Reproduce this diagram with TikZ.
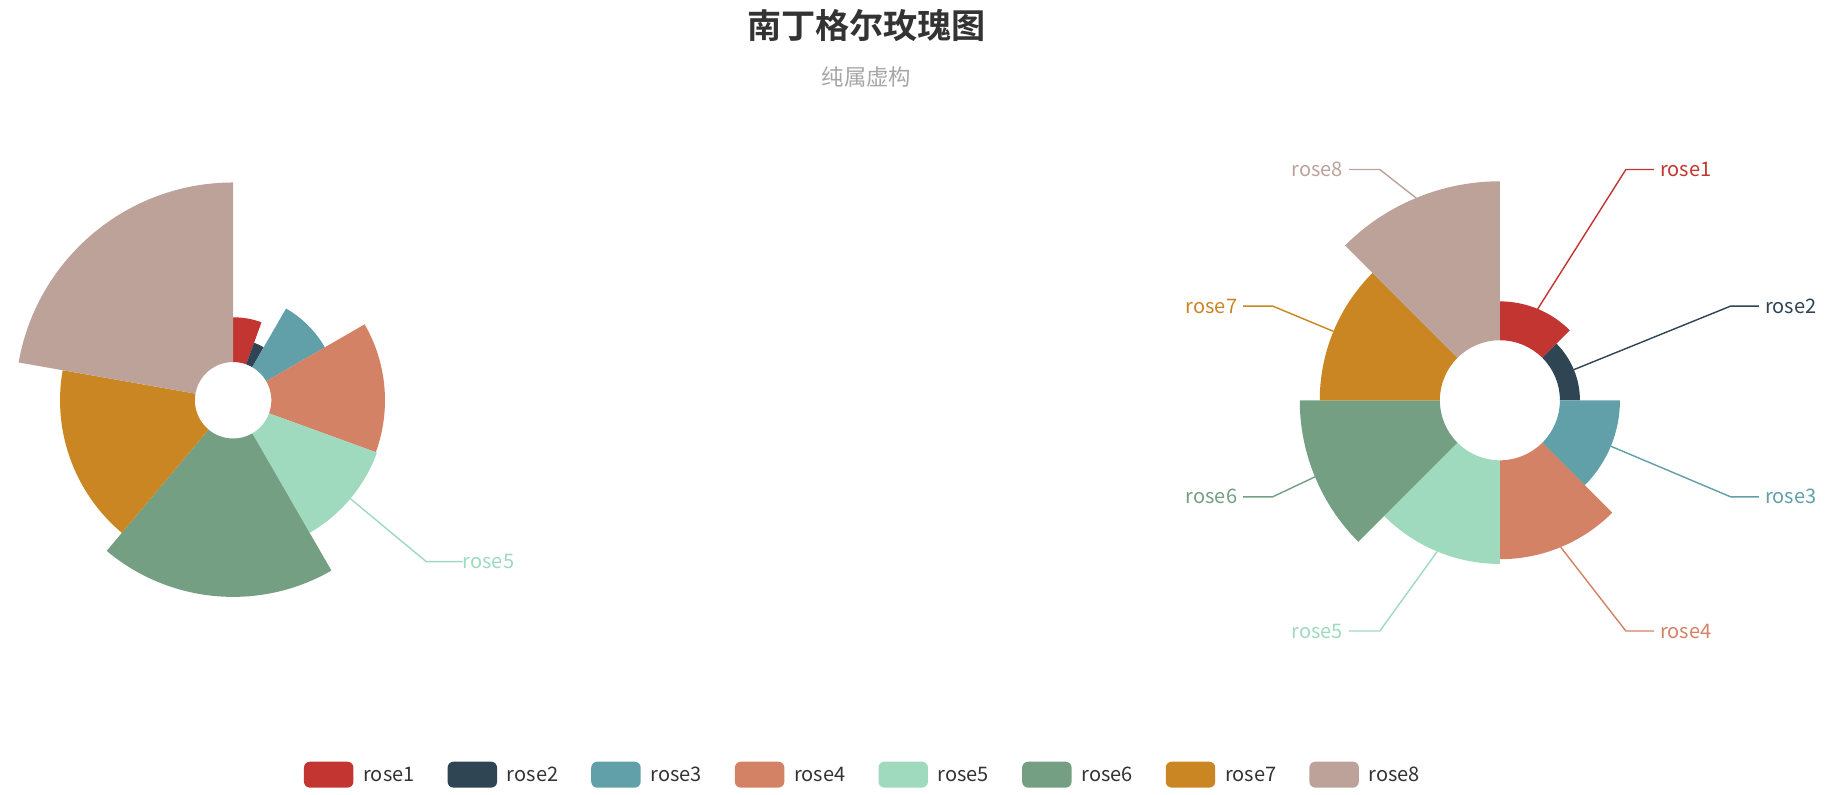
\documentclass[tikz,border=0pt]{standalone}
\usepackage{fontspec}
\setmainfont{Noto Sans CJK SC}
\newfontfamily\cjkb{Noto Sans CJK SC Bold}
\usetikzlibrary{calc}
\definecolor{c1}{HTML}{C23531}
\definecolor{c2}{HTML}{2F4554}
\definecolor{c3}{HTML}{61A0A8}
\definecolor{c4}{HTML}{D48265}
\definecolor{c5}{HTML}{9FDABF}
\definecolor{c6}{HTML}{749F83}
\definecolor{c7}{HTML}{CA8622}
\definecolor{c8}{HTML}{BDA29A}
\definecolor{tx}{HTML}{333333}
\newcommand{\rsector}[6]{% center, r0, r, a1, a2, color
  \fill[#6] ([shift={(#4:#2)}]#1) arc[start angle=#4,end angle=#5,radius=#2]
    -- ([shift={(#5:#3)}]#1) arc[start angle=#5,end angle=#4,radius=#3] -- cycle;}
\tikzset{
  lbl/.style={font=\fontsize{17}{20}\selectfont, inner sep=0pt},
  lline/.style={line width=1.2pt},
  swatch/.style={rounded corners=5pt, minimum width=42pt, minimum height=22pt, inner sep=0pt},
  legtext/.style={font=\fontsize{17}{20}\selectfont, text=tx, inner sep=0pt, anchor=west}
}
\begin{document}
\begin{tikzpicture}[x=1pt,y=1pt]
\useasboundingbox (0,0) rectangle (1568,675);
\fill[white] (0,0) rectangle (1568,675);
% title
\node[font=\cjkb\fontsize{29}{32}\selectfont, text=tx] (title) at (736,653) {南丁格尔玫瑰图};
\node[font=\fontsize{19}{22}\selectfont, text=black!35] (sub) at (736,610) {纯属虚构};
% left chart
\coordinate (L) at (198,335);
\rsector{L}{32.5}{70.5}{90}{70}{c1}
\rsector{L}{32.5}{52}{70}{60}{c2}
\rsector{L}{32.5}{90}{60}{30}{c3}
\rsector{L}{32.5}{129}{30}{-20}{c4}
\rsector{L}{32.5}{130}{-20}{-60}{c5}
\rsector{L}{32.5}{167}{-60}{-130}{c6}
\rsector{L}{32.5}{147}{-130}{-190}{c7}
\rsector{L}{32.5}{185}{170}{90}{c8}
\coordinate (l5a) at ([shift={(-40:130)}]L);
\node[lbl, text=c5, anchor=west] (l5) at (393,198) {rose5};
\draw[lline, c5] (l5a) -- (362,198) -- (l5.west) ++(-6,0);
% right chart
\coordinate (R) at (1274,335);
\rsector{R}{51}{84}{90}{45}{c1}
\rsector{R}{51}{68}{45}{0}{c2}
\rsector{R}{51}{102}{0}{-45}{c3}
\rsector{R}{51}{135}{-45}{-90}{c4}
\rsector{R}{51}{139}{-90}{-135}{c5}
\rsector{R}{51}{170}{-135}{-180}{c6}
\rsector{R}{51}{153}{180}{135}{c7}
\rsector{R}{51}{186}{135}{90}{c8}
\node[lbl, text=c1, anchor=west] (r1) at (1410,531) {rose1};
\node[lbl, text=c2, anchor=west] (r2) at (1499,415) {rose2};
\node[lbl, text=c3, anchor=west] (r3) at (1499,253) {rose3};
\node[lbl, text=c4, anchor=west] (r4) at (1410,139) {rose4};
\node[lbl, text=c5, anchor=east] (r5) at (1141,139) {rose5};
\node[lbl, text=c6, anchor=east] (r6) at (1051,253) {rose6};
\node[lbl, text=c7, anchor=east] (r7) at (1051,415) {rose7};
\node[lbl, text=c8, anchor=east] (r8) at (1141,531) {rose8};
\draw[lline, c1] ([shift={(67.5:84)}]R) -- (1381,531) -- ([xshift=-5pt]r1.west);
\draw[lline, c2] ([shift={(22.5:68)}]R) -- (1470,415) -- ([xshift=-5pt]r2.west);
\draw[lline, c3] ([shift={(-22.5:102)}]R) -- (1470,253) -- ([xshift=-5pt]r3.west);
\draw[lline, c4] ([shift={(-67.5:135)}]R) -- (1381,139) -- ([xshift=-5pt]r4.west);
\draw[lline, c5] ([shift={(-112.5:139)}]R) -- (1172,139) -- ([xshift=5pt]r5.east);
\draw[lline, c6] ([shift={(-157.5:170)}]R) -- (1081,253) -- ([xshift=5pt]r6.east);
\draw[lline, c7] ([shift={(157.5:153)}]R) -- (1081,415) -- ([xshift=5pt]r7.east);
\draw[lline, c8] ([shift={(112.5:186)}]R) -- (1172,531) -- ([xshift=5pt]r8.east);
% legend
\foreach \i [count=\k from 0] in {1,...,8} {
  \node[swatch, fill=c\i, anchor=west] (sw\i) at (258+122*\k,17) {};
  \node[legtext] (lt\i) at ($(sw\i.east)+(8,0)$) {rose\i};
}
\end{tikzpicture}
\end{document}
